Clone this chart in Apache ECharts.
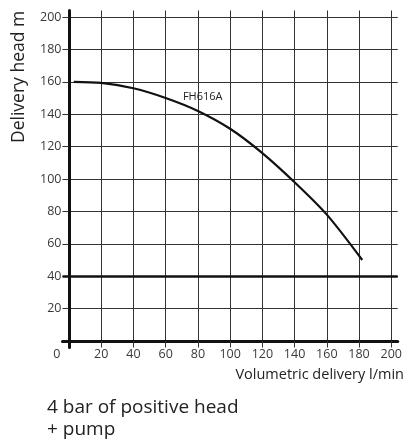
<!DOCTYPE html>
<html>
<head>
<meta charset="utf-8">
<script src="https://cdn.jsdelivr.net/npm/echarts@6/dist/echarts.min.js"></script>
<style>
  html, body { margin: 0; padding: 0; background: #fff; }
  #chart { width: 405px; height: 444px; }
</style>
</head>
<body>
<div id="chart"></div>
<script>
// Pump curve FH616A
const flow = [3, 20, 40, 60, 80, 100, 120, 140, 160, 182];
const head = [160, 159.3, 156, 150, 142, 131, 116, 98, 78, 50];
const xTicks = [0, 20, 40, 60, 80, 100, 120, 140, 160, 180, 200];
const yTicks = [0, 20, 40, 60, 80, 100, 120, 140, 160, 180, 200];
const positiveHead = 40;
const curveName = 'FH616A';

const FONT = '"Open Sans", "Noto Sans", sans-serif';
const chart = echarts.init(document.getElementById('chart'));

chart.setOption({
    animation: false,
    backgroundColor: '#fff',
    grid: { left: 62.5, right: 6.5, top: 10.5, bottom: 96.5 },
    xAxis: {
        type: 'value',
        min: -4,
        max: 204,
        axisLine: { lineStyle: { color: '#111', width: 3 } },
        axisTick: { show: true, length: 3, customValues: xTicks.slice(1), lineStyle: { color: '#333' } },
        axisLabel: {
            customValues: xTicks,
            color: '#3a3a3a',
            fontFamily: FONT,
            fontSize: 12.5,
            margin: 0,
            formatter: v => v === 0 ? '{z|0}' : String(v),
            rich: { z: { padding: [0, 24, 0, 0], color: '#3a3a3a', fontFamily: FONT, fontSize: 12.5 } }
        },
        splitLine: { show: true, lineStyle: { color: '#333', width: 1 } }
    },
    yAxis: {
        type: 'value',
        min: -4,
        max: 204,
        axisLine: { show: true, lineStyle: { color: '#111', width: 3 } },
        axisTick: { show: true, length: 6, customValues: yTicks.slice(1), lineStyle: { color: '#333' } },
        axisLabel: {
            customValues: yTicks.slice(1),
            color: '#3a3a3a',
            fontFamily: FONT,
            fontSize: 12.5,
            margin: 1
        },
        splitLine: { show: true, lineStyle: { color: '#333', width: 1 } }
    },
    series: [{
        type: 'line',
        name: curveName,
        data: flow.map((x, i) => [x, head[i]]),
        smooth: 0.3,
        showSymbol: false,
        lineStyle: { color: '#111', width: 2.2 },
        markLine: {
            silent: true,
            symbol: 'none',
            label: { show: false },
            lineStyle: { color: '#111', width: 2.5, type: 'solid' },
            data: [{ yAxis: positiveHead }]
        },
        markPoint: {
            symbol: 'circle',
            symbolSize: 0,
            label: {
                show: true,
                formatter: curveName,
                color: '#222',
                fontFamily: FONT,
                fontSize: 11
            },
            data: [{ coord: [83, 151] }]
        }
    }],
    graphic: [
        {
            type: 'text',
            rotation: Math.PI / 2,
            style: {
                text: 'Delivery head m',
                fill: '#222',
                font: '17.5px ' + FONT
            },
            x: 10, y: 143
        },
        {
            type: 'text',
            right: 1,
            top: 367,
            style: { text: 'Volumetric delivery l/min', fill: '#222', font: '14.5px ' + FONT }
        },
        {
            type: 'text',
            left: 47,
            top: 397,
            style: { text: '4 bar of positive head\n+ pump', fill: '#222', font: '19px ' + FONT, lineHeight: 22 }
        }
    ]
});
</script>
</body>
</html>
